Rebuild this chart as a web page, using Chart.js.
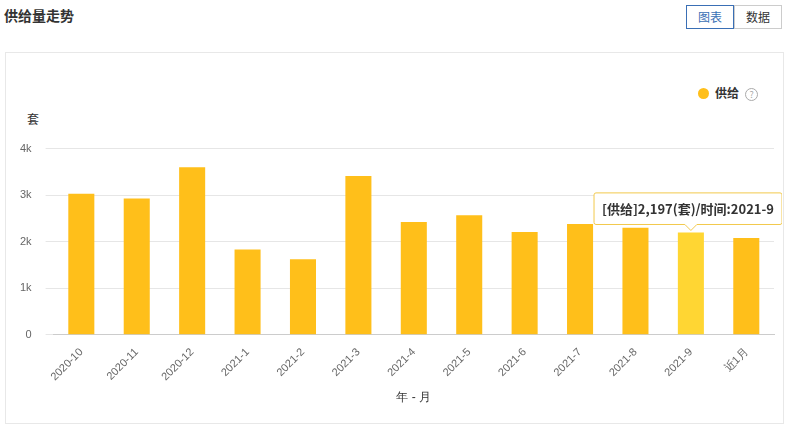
<!DOCTYPE html>
<html><head><meta charset="utf-8">
<script src="https://cdn.jsdelivr.net/npm/chart.js@4"></script>
<style>
body{margin:0;width:787px;height:429px;background:#fff;font-family:"Microsoft YaHei","Noto Sans CJK SC",sans-serif;position:relative;overflow:hidden}
#title{position:absolute;left:4px;top:5px;font-size:14px;font-weight:bold;color:#333}
.btn{position:absolute;top:5px;height:22px;line-height:22px;font-size:12px;text-align:center;border:1px solid #ccc;color:#333;background:#fff}
#box{position:absolute;left:5px;top:52px;width:777px;height:370px;border:1px solid #e8e8e8}
#legend{position:absolute;left:698px;top:84px;font-size:12px;font-weight:bold;color:#333}
#legend .dot{display:inline-block;width:11px;height:11px;border-radius:50%;background:#FFBF1A;vertical-align:-1px;margin-right:6px}
#legend .q{display:inline-block;width:11px;height:11px;border:1px solid #aaa;border-radius:50%;font-size:9px;line-height:11px;text-align:center;color:#aaa;margin-left:6px;font-weight:normal}
#yt{position:absolute;left:27px;top:110px;font-size:12px;color:#333}
#wrap{position:absolute;left:6px;top:128px;width:776px;height:281px}
</style></head><body>
<div id="title">供给量走势</div>
<div class="btn" style="left:686px;width:46px;border-color:#3a6fb5;color:#3a6fb5">图表</div>
<div class="btn" style="left:734px;width:46px">数据</div>
<div id="box"></div>
<div id="legend"><span class="dot"></span>供给<span class="q">?</span></div>
<div id="yt">套</div>
<div id="wrap"><canvas id="c"></canvas></div>
<script>
const categories=["2020-10","2020-11","2020-12","2021-1","2021-2","2021-3","2021-4","2021-5","2021-6","2021-7","2021-8","2021-9","近1月"];
const supply=[3030,2930,3600,1830,1620,3410,2420,2570,2210,2380,2300,2197,2080];
const yTicks=[0,1000,2000,3000,4000];
const yTickLabels=["0","1k","2k","3k","4k"];
const activeIndex=11;
const chart=new Chart(document.getElementById('c'),{
 type:'bar',
 data:{labels:categories,datasets:[{label:'供给',data:supply,backgroundColor:'#FFBF1A',hoverBackgroundColor:'#FFD633',barPercentage:0.47,categoryPercentage:1}]},
 options:{responsive:true,maintainAspectRatio:false,animation:false,
  layout:{padding:{top:8,right:8,left:0,bottom:0}},
  events:[],
  plugins:{legend:{display:false},
   tooltip:{enabled:true,backgroundColor:'#fff',borderColor:'#f2c94c',borderWidth:1,titleColor:'#333',bodyColor:'#333',
    bodyFont:{weight:'bold',size:13,family:'"Microsoft YaHei","Noto Sans CJK SC",sans-serif'},displayColors:false,
    yAlign:'bottom',xAlign:'center',caretSize:6,cornerRadius:2,padding:{x:8,y:8},
    callbacks:{title:()=>'',label:(ctx)=>'[供给]'+ctx.parsed.y.toLocaleString('en-US')+'(套)/时间:'+ctx.label}}},
  scales:{
   x:{grid:{display:false},border:{color:'#ccc'},ticks:{color:'#666',font:{size:11},maxRotation:45,minRotation:45},
      title:{display:true,text:'年 - 月',color:'#333',font:{size:12}}},
   y:{min:0,max:4000,afterBuildTicks:(s)=>{s.ticks=yTicks.map(v=>({value:v}))},
      grid:{color:'#e6e6e6'},border:{display:false},
      ticks:{color:'#666',font:{size:11},padding:14,callback:(v)=>yTickLabels[yTicks.indexOf(v)]}}}
 }});
chart.setActiveElements([{datasetIndex:0,index:activeIndex}]);
chart.tooltip.setActiveElements([{datasetIndex:0,index:activeIndex}],{x:0,y:0});
chart.update();
</script></body></html>
